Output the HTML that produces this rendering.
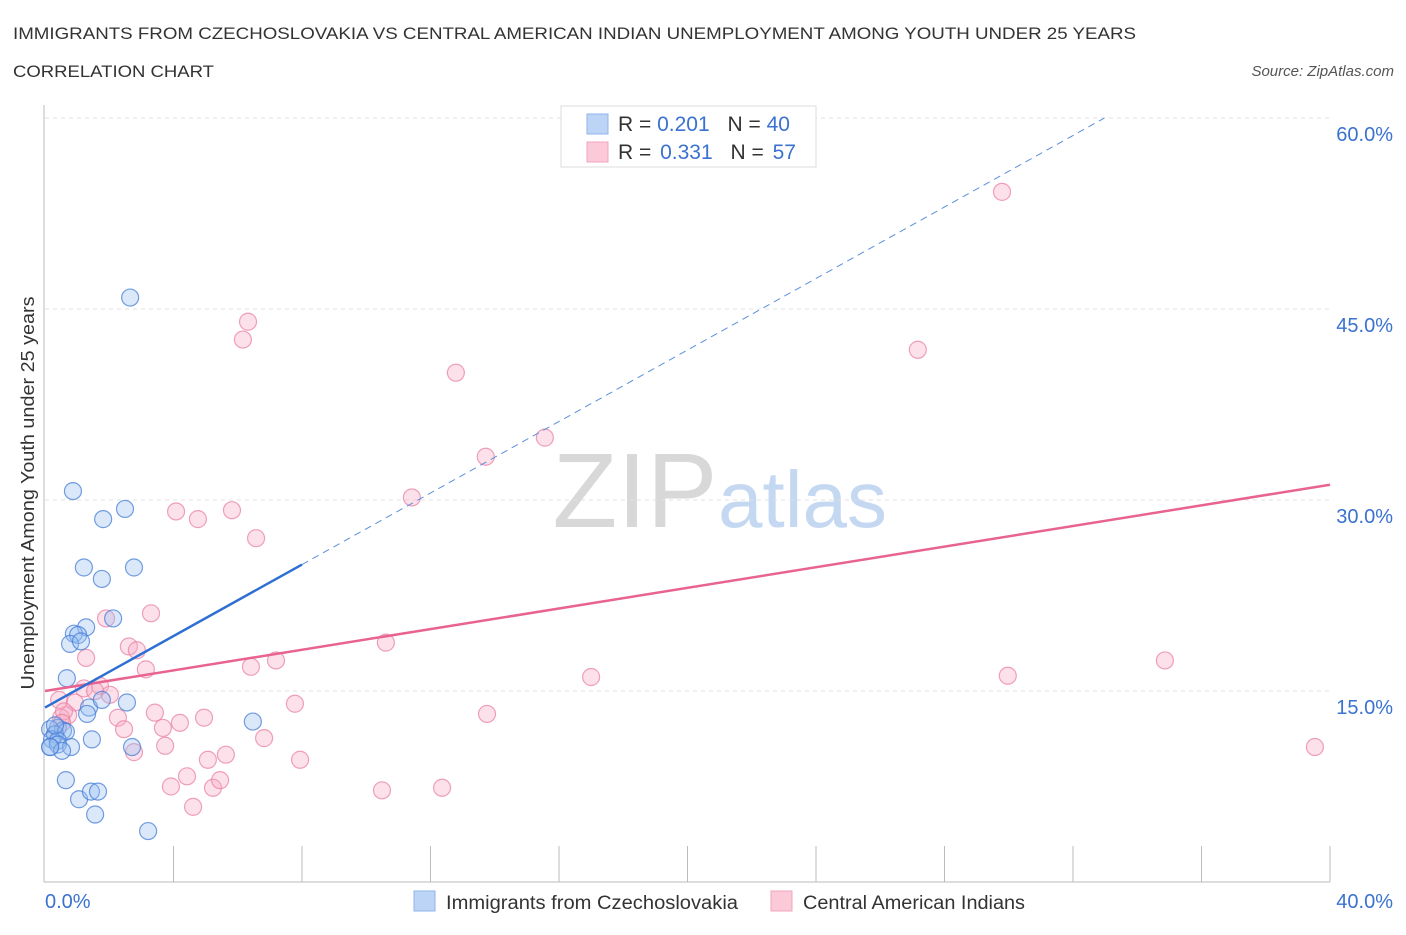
<!DOCTYPE html>
<html><head><meta charset="utf-8"><style>
body{margin:0;background:#fff;font-family:"Liberation Sans",sans-serif;}
svg text{font-family:"Liberation Sans",sans-serif;}
</style></head><body>
<svg id="chart" width="1406" height="930" xmlns="http://www.w3.org/2000/svg">
<text x="13" y="39" font-size="17" fill="#333" textLength="1123" lengthAdjust="spacingAndGlyphs">IMMIGRANTS FROM CZECHOSLOVAKIA VS CENTRAL AMERICAN INDIAN UNEMPLOYMENT AMONG YOUTH UNDER 25 YEARS</text>
<text x="13" y="77" font-size="17" fill="#333" textLength="201" lengthAdjust="spacingAndGlyphs">CORRELATION CHART</text>
<text x="1394" y="76" font-size="15" fill="#555" text-anchor="end" font-style="italic">Source: ZipAtlas.com</text>
<g>
<text x="635" y="527" font-size="106" fill="#d8d8d8" text-anchor="middle" font-family="Liberation Serif,serif">ZIP</text>
<text x="718" y="527" font-size="80" fill="#c5d8f2">atlas</text>
</g>
<g id="grid"></g>
<g id="axes"></g>
<g id="pts"></g>
<g id="lines"></g>
<g>
<rect x="561" y="106" width="255" height="61" fill="#fff" stroke="#ddd"/>
<rect x="587" y="114" width="21" height="20" fill="#bcd4f6" stroke="#8fb3e8"/>
<rect x="587" y="142" width="21" height="20" fill="#fbc9d8" stroke="#f0a5bd"/>
<text x="618" y="131" font-size="21" fill="#333">R = <tspan fill="#3a72d0">0.201</tspan>  <tspan dx="12">N = </tspan><tspan fill="#3a72d0">40</tspan></text>
<text x="618" y="159" font-size="21" fill="#333">R = <tspan fill="#3a72d0" dx="3">0.331</tspan>  <tspan dx="12">N = </tspan><tspan fill="#3a72d0" dx="3">57</tspan></text>
</g>
<g>
<rect x="414" y="891" width="21" height="20" fill="#bcd4f6" stroke="#8fb3e8"/>
<text x="446" y="909" font-size="19" fill="#333" textLength="292" lengthAdjust="spacingAndGlyphs">Immigrants from Czechoslovakia</text>
<rect x="771" y="891" width="21" height="20" fill="#fbc9d8" stroke="#f0a5bd"/>
<text x="803" y="909" font-size="19" fill="#333" textLength="222" lengthAdjust="spacingAndGlyphs">Central American Indians</text>
</g>
<text transform="translate(34,493) rotate(-90)" font-size="18" fill="#333" text-anchor="middle" textLength="393" lengthAdjust="spacingAndGlyphs">Unemployment Among Youth under 25 years</text>
</svg>
<script>
const blueX=[2.65,0.87,1.81,2.49,1.21,2.77,1.77,2.12,1.28,0.90,1.03,0.78,1.12,0.68,1.37,1.31,2.55,1.77,0.40,0.56,0.16,0.31,0.22,0.65,0.40,0.16,0.40,0.81,0.53,1.46,2.71,6.47,0.65,1.06,1.43,1.65,1.56,3.21,0.16,0.31];
const blueY=[45.9,30.7,28.5,29.3,24.7,24.7,23.8,20.7,20.0,19.5,19.4,18.7,18.9,16.0,13.7,13.2,14.1,14.3,12.1,11.9,12.0,11.6,11.2,11.8,11.1,10.6,10.8,10.6,10.3,11.2,10.6,12.6,8.0,6.5,7.1,7.1,5.3,4.0,10.6,12.3];
const pinkX=[29.79,6.32,6.16,27.17,12.79,15.56,13.72,11.42,4.08,4.76,5.82,6.57,3.30,1.90,2.61,2.86,1.28,3.14,7.19,6.41,10.61,17.00,29.97,34.86,0.44,0.93,1.71,1.21,1.56,2.02,0.72,0.50,0.59,2.27,3.42,4.20,4.95,7.78,13.76,3.67,2.46,3.74,6.82,5.63,5.07,2.77,7.94,4.42,3.92,5.23,5.45,4.61,10.49,12.36,39.53,0.31,0.53];
const pinkY=[54.2,44.0,42.6,41.8,40.0,34.9,33.4,30.2,29.1,28.5,29.2,27.0,21.1,20.7,18.5,18.2,17.6,16.7,17.4,16.9,18.8,16.1,16.2,17.4,14.3,14.1,15.4,15.2,15.0,14.7,13.1,12.9,13.4,12.9,13.3,12.5,12.9,14.0,13.2,12.1,12.0,10.7,11.3,10.0,9.6,10.2,9.6,8.3,7.5,7.4,8.0,5.9,7.2,7.4,10.6,11.6,12.5];
const yTicks=[15,30,45,60];
const blueLine=[13.7,1.404];
const pinkLine=[15.0,0.405];
const NS="http://www.w3.org/2000/svg";
const X=v=>45+v*32.125, Y=v=>882-v*12.733;
function mk(t,a,p){const e=document.createElementNS(NS,t);for(const k in a)e.setAttribute(k,a[k]);p.appendChild(e);return e;}
const grid=document.getElementById('grid'),axes=document.getElementById('axes'),pts=document.getElementById('pts'),lines=document.getElementById('lines');
yTicks.forEach(t=>{
 const l=mk('line',{x1:45,x2:1330,y1:Y(t),y2:Y(t),stroke:'#e0e0e0','stroke-dasharray':'4,4'},grid);
 
 
 const tx=mk('text',{x:1393,y:Y(t)+23,'font-size':20,fill:'#3a72d0','text-anchor':'end'},grid);
 tx.textContent=t.toFixed(1)+'%';
 
 
});
let a=mk('line',{x1:44,x2:44,y1:105,y2:882,stroke:'#bbb'},axes);


a=mk('line',{x1:44,x2:1330,y1:882,y2:882,stroke:'#bbb'},axes);


for(let i=1;i<=10;i++){const t=mk('line',{x1:X(i*4),x2:X(i*4),y1:846,y2:882,stroke:'#bbb'},axes);
 
 }
let tl=mk('text',{x:45,y:908,'font-size':20,fill:'#3a72d0'},axes);tl.textContent='0.0%';


tl=mk('text',{x:1393,y:908,'font-size':20,fill:'#3a72d0','text-anchor':'end'},axes);tl.textContent='40.0%';


pinkX.forEach((x,i)=>{const c=mk('circle',{cx:X(x),cy:Y(pinkY[i]),r:8.5,fill:'rgba(246,170,196,0.35)',stroke:'rgba(234,130,165,0.75)','stroke-width':1.2},pts);
 
 });
blueX.forEach((x,i)=>{const c=mk('circle',{cx:X(x),cy:Y(blueY[i]),r:8.5,fill:'rgba(150,188,240,0.35)',stroke:'rgba(70,125,215,0.75)','stroke-width':1.2},pts);
 
 });
let ln=mk('line',{x1:X(0),y1:Y(pinkLine[0]),x2:X(40),y2:Y(pinkLine[0]+pinkLine[1]*40),stroke:'#e8638f','stroke-width':2.5},lines);


ln=mk('line',{x1:X(0),y1:Y(blueLine[0]),x2:X(8),y2:Y(blueLine[0]+blueLine[1]*8),stroke:'#2e6fd4','stroke-width':2.5},lines);


const xe=(60-blueLine[0])/blueLine[1];
ln=mk('line',{x1:X(8),y1:Y(blueLine[0]+blueLine[1]*8),x2:X(xe),y2:Y(60),stroke:'#5b8fdc','stroke-width':1,'stroke-dasharray':'7,5'},lines);


</script>
</body></html>
